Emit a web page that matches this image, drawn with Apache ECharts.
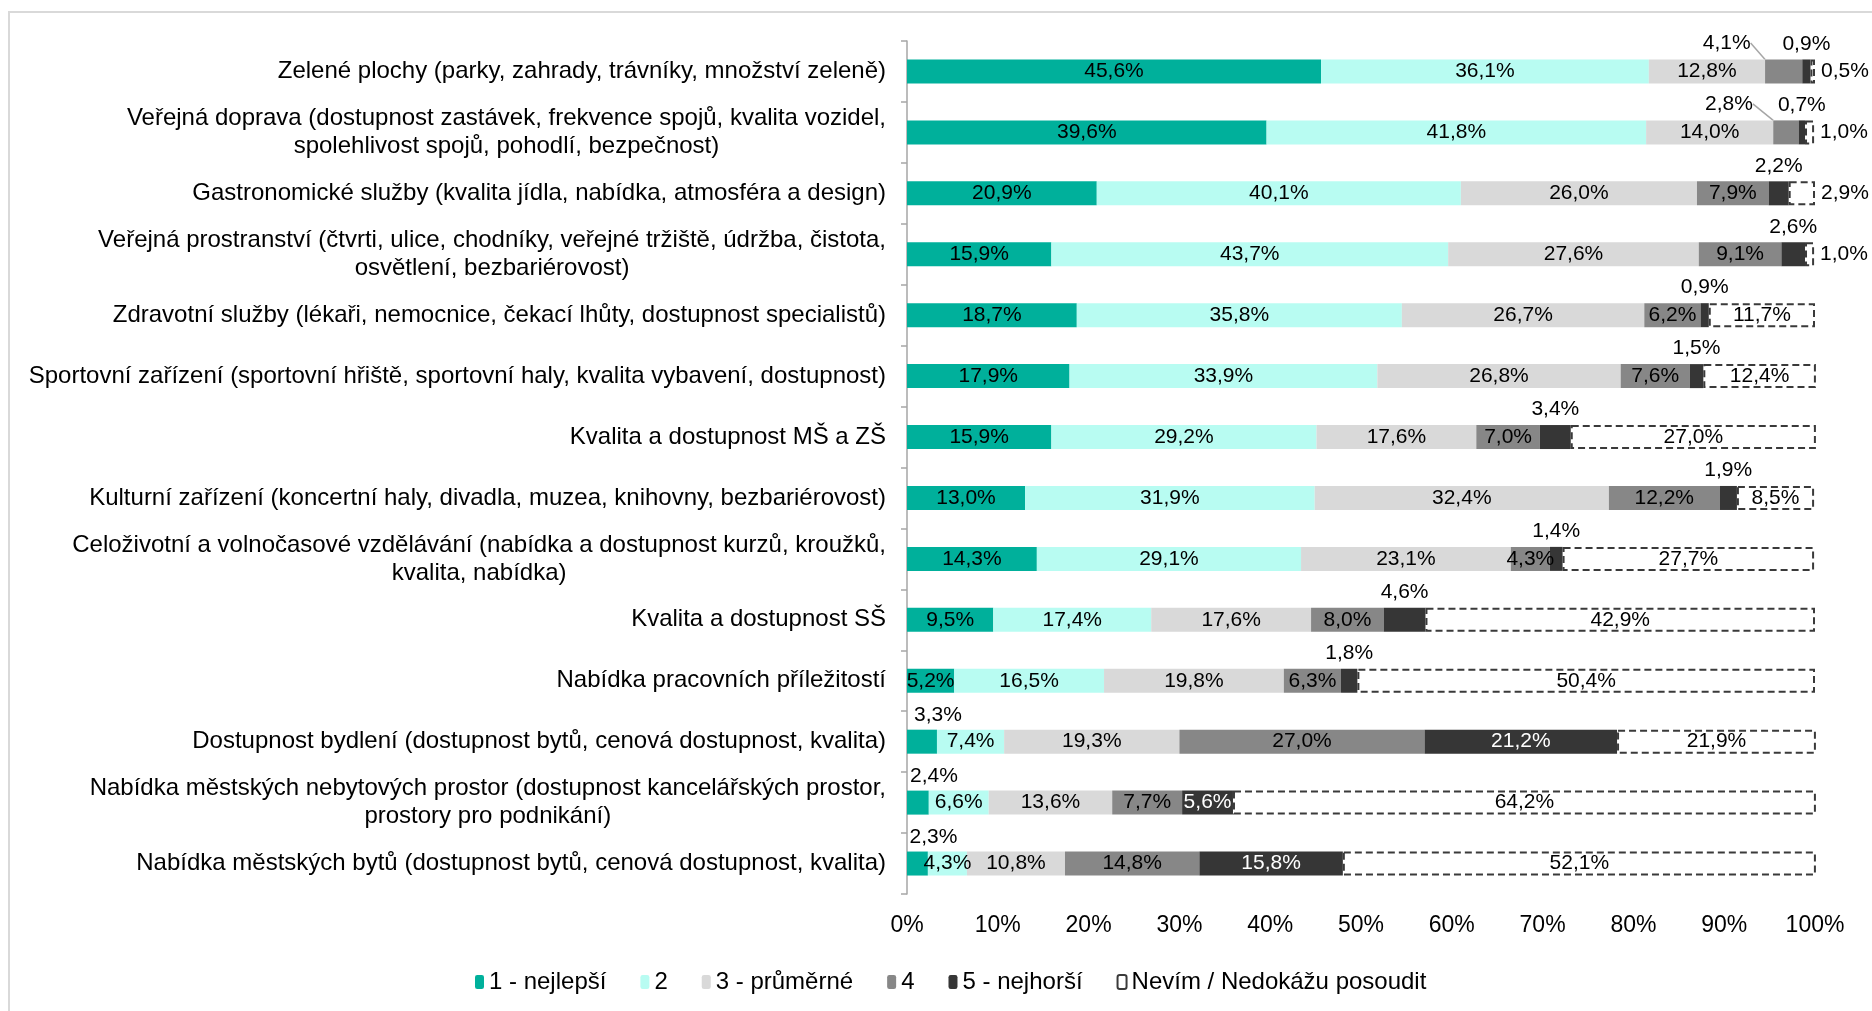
<!DOCTYPE html>
<html>
<head>
<meta charset="utf-8">
<script src="https://cdn.jsdelivr.net/npm/echarts@6/dist/echarts.min.js"></script>
<style>
  html, body { margin: 0; padding: 0; background: #fff; }
  #chart { width: 1872px; height: 1011px; }
</style>
</head>
<body>
<div id="chart"></div>
<script>
// Kategorie (shora dolů)
const categories = [
  'Zelené plochy (parky, zahrady, trávníky, množství zeleně)',
  'Veřejná doprava (dostupnost zastávek, frekvence spojů, kvalita vozidel,\nspolehlivost spojů, pohodlí, bezpečnost)',
  'Gastronomické služby (kvalita jídla, nabídka, atmosféra a design)',
  'Veřejná prostranství (čtvrti, ulice, chodníky, veřejné tržiště, údržba, čistota,\nosvětlení, bezbariérovost)',
  'Zdravotní služby (lékaři, nemocnice, čekací lhůty, dostupnost specialistů)',
  'Sportovní zařízení (sportovní hřiště, sportovní haly, kvalita vybavení, dostupnost)',
  'Kvalita a dostupnost MŠ a ZŠ',
  'Kulturní zařízení (koncertní haly, divadla, muzea, knihovny, bezbariérovost)',
  'Celoživotní a volnočasové vzdělávání (nabídka a dostupnost kurzů, kroužků,\nkvalita, nabídka)',
  'Kvalita a dostupnost SŠ',
  'Nabídka pracovních příležitostí',
  'Dostupnost bydlení (dostupnost bytů, cenová dostupnost, kvalita)',
  'Nabídka městských nebytových prostor (dostupnost kancelářských prostor,\nprostory pro podnikání)',
  'Nabídka městských bytů (dostupnost bytů, cenová dostupnost, kvalita)'
]

const seriesNames = ['1 - nejlepší', '2', '3 - průměrné', '4', '5 - nejhorší', 'Nevím / Nedokážu posoudit']

const best     = [45.6, 39.6, 20.9, 15.9, 18.7, 17.9, 15.9, 13.0, 14.3, 9.5, 5.2, 3.3, 2.4, 2.3]
const second   = [36.1, 41.8, 40.1, 43.7, 35.8, 33.9, 29.2, 31.9, 29.1, 17.4, 16.5, 7.4, 6.6, 4.3]
const average  = [12.8, 14.0, 26.0, 27.6, 26.7, 26.8, 17.6, 32.4, 23.1, 17.6, 19.8, 19.3, 13.6, 10.8]
const fourth   = [4.1, 2.8, 7.9, 9.1, 6.2, 7.6, 7.0, 12.2, 4.3, 8.0, 6.3, 27.0, 7.7, 14.8]
const worst    = [0.9, 0.7, 2.2, 2.6, 0.9, 1.5, 3.4, 1.9, 1.4, 4.6, 1.8, 21.2, 5.6, 15.8]
const dontKnow = [0.5, 1.0, 2.9, 1.0, 11.7, 12.4, 27.0, 8.5, 27.7, 42.9, 50.4, 21.9, 64.2, 52.1]

const xTicks = [0, 10, 20, 30, 40, 50, 60, 70, 80, 90, 100]

const colors = ['#00b09b', '#b8fcf2', '#d9d9d9', '#878787', '#363636', '#ffffff']
const FONT = '"Liberation Sans", Arial, sans-serif'

const fmt = v => v.toFixed(1).replace('.', ',') + '%'

// popisky nad pruhem / vpravo od pruhu
const bestTop = [11, 12, 13]
const fourthTop = [0, 1]
const worstInside = [11, 12, 13]
const dontKnowRight = [0, 1, 2, 3]

const baseLabel = {
  show: true,
  fontFamily: FONT,
  fontSize: 21,
  color: '#000',
  formatter: p => fmt(p.value)
}

const buildData = (values, fn) => values.map((v, i) => {
  const extra = fn(i)
  return extra ? Object.assign({ value: v }, extra) : v
})

const series = [
  {
    data: buildData(best, i => bestTop.includes(i)
      ? { label: { position: 'top', distance: 4, offset: [16, 0] } } : null)
  },
  { data: buildData(second, () => null) },
  { data: buildData(average, () => null) },
  {
    data: buildData(fourth, i => fourthTop.includes(i)
      ? {
          label: { position: 'top', distance: 6 },
          labelLine: { show: true, lineStyle: { color: '#a6a6a6', width: 1.5 } }
        } : null),
    labelLayout: p => (fourthTop.includes(p.dataIndex) ? { dx: -57 } : {})
  },
  {
    data: buildData(worst, i => worstInside.includes(i)
      ? { label: { position: 'inside', color: '#fff' } } : null),
    label: { position: 'top', distance: 5 }
  },
  {
    data: buildData(dontKnow, i => dontKnowRight.includes(i)
      ? { label: { position: 'right', distance: 6 } } : null),
    itemStyle: {
      color: '#fff',
      borderColor: '#3a3a3a',
      borderWidth: 2,
      borderType: [7, 4]
    }
  }
].map((s, idx) => Object.assign({
  name: seriesNames[idx],
  type: 'bar',
  stack: 'total',
  barWidth: 24,
  emphasis: { disabled: true }
}, s, {
  itemStyle: Object.assign({ color: colors[idx] }, s.itemStyle || {}),
  label: Object.assign({}, baseLabel, { position: 'inside' }, s.label || {})
}))

const chart = echarts.init(document.getElementById('chart'))

chart.setOption({
  animation: false,
  color: colors,
  grid: {
    left: 907,
    right: 57,
    top: 41,
    bottom: 117,
    containLabel: false
  },
  graphic: [{
    type: 'rect',
    silent: true,
    shape: { x: 9, y: 12, width: 1900, height: 1100 },
    style: { fill: 'none', stroke: '#d9d9d9', lineWidth: 2 }
  }],
  legend: {
    left: 470,
    top: 965,
    itemWidth: 9,
    itemHeight: 14,
    itemGap: 34,
    textStyle: { fontFamily: FONT, fontSize: 24, color: '#000' },
    data: seriesNames
  },
  xAxis: {
    type: 'value',
    min: 0,
    max: 100,
    interval: 10,
    axisLine: { show: false },
    axisTick: { show: false },
    splitLine: { show: false },
    axisLabel: {
      margin: 20,
      fontFamily: FONT,
      fontSize: 23,
      color: '#000',
      formatter: v => (xTicks.includes(v) ? v + '%' : '')
    }
  },
  yAxis: {
    type: 'category',
    inverse: true,
    data: categories,
    axisLine: { show: true, lineStyle: { color: '#a6a6a6', width: 1.5 } },
    axisTick: { show: true, length: 6, lineStyle: { color: '#a6a6a6', width: 1.5 } },
    axisLabel: {
      margin: 21,
      fontFamily: FONT,
      fontSize: 24,
      color: '#000',
      formatter: v => '{c|' + v + '}',
      rich: {
        c: {
          align: 'center',
          fontFamily: FONT,
          fontSize: 24,
          lineHeight: 28,
          color: '#000'
        }
      }
    }
  },
  series: series
})

window.addEventListener('resize', () => chart.resize())
</script>
</body>
</html>
